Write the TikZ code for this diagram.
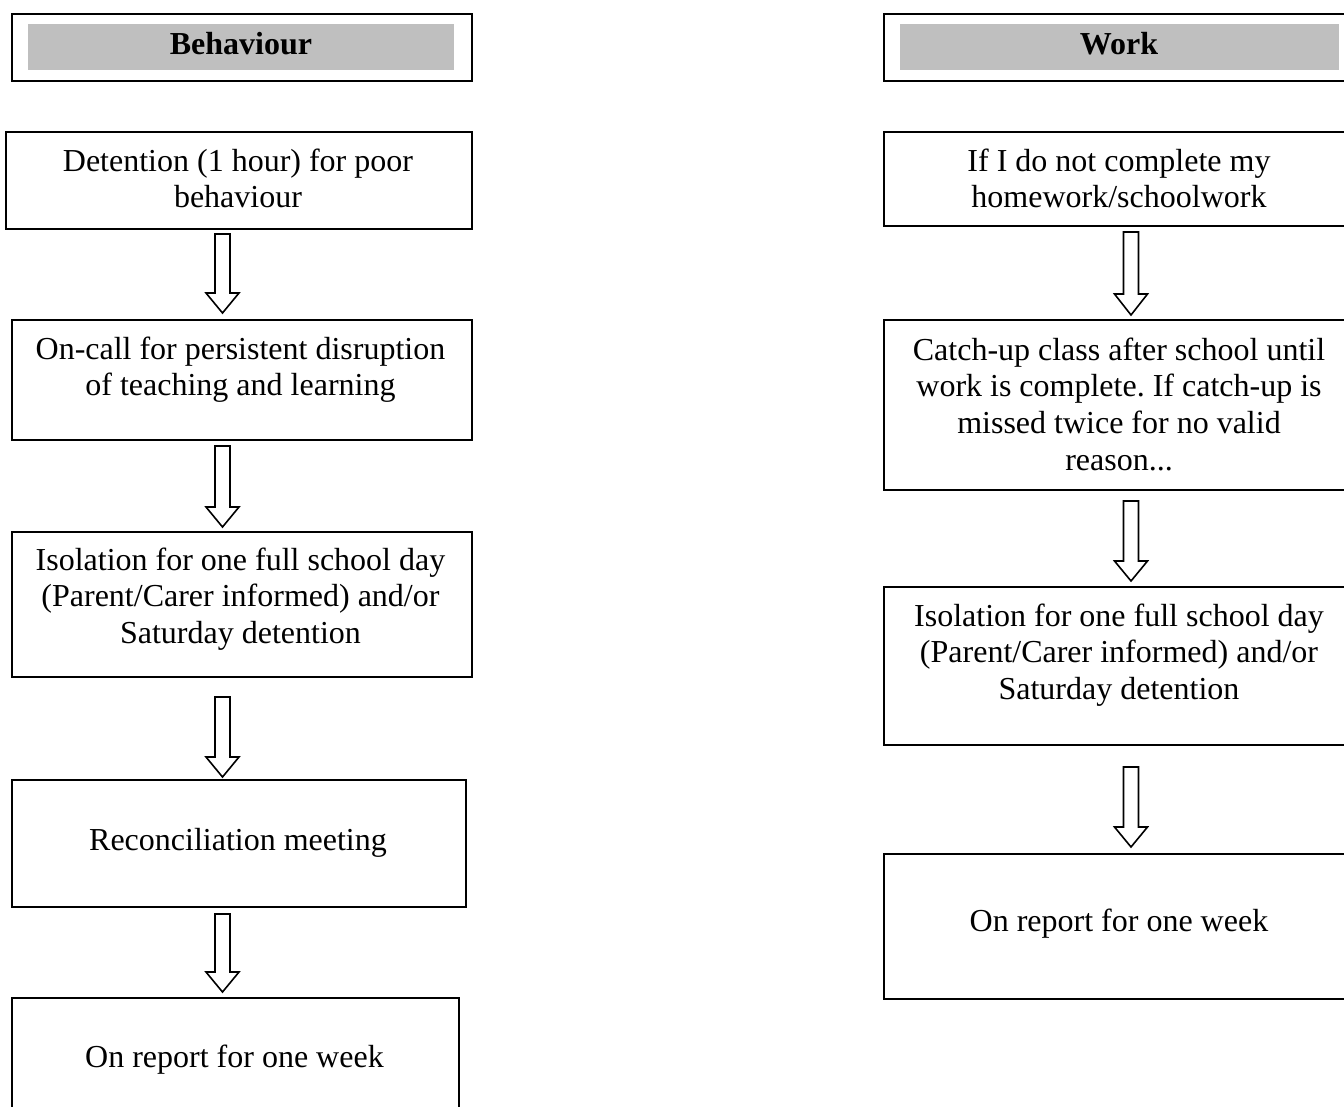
\documentclass[tikz,border=0pt]{standalone}
\usepackage{fontspec}
\setmainfont{Liberation Serif}
\frenchspacing
\definecolor{hdrgray}{HTML}{BFBFBF}
\tikzset{
  boxnode/.style={draw=black, line width=2pt, rectangle, inner sep=0pt, anchor=north west},
  hdrfill/.style={fill=hdrgray, draw=none, rectangle, inner sep=0pt, anchor=north west},
  txt/.style={inner sep=0pt, anchor=base, align=flush center, text width=450pt,
    font=\fontsize{32pt}{36.8pt}\selectfont\frenchspacing},
  hdrtxt/.style={txt, font=\fontsize{32pt}{36.8pt}\selectfont\bfseries},
  blockarr/.style={draw=black, line width=1.6pt, fill=white, line join=miter}
}
\newcommand{\mkbox}[5]{\node[boxnode, minimum width={#4-#2}, minimum height={#5-#3}] (#1) at (#2,#3) {};}
\newcommand{\mkfill}[5]{\node[hdrfill, minimum width={#4-#2}, minimum height={#5-#3}] (#1) at (#2,#3) {};}
\newcommand{\blockarrow}[4]{\draw[blockarr] (#1-7.5,#2) -- (#1+7.5,#2) -- (#1+7.5,#3) -- (#1+16.5,#3) -- (#1,#4) -- (#1-16.5,#3) -- (#1-7.5,#3) -- cycle;}
\begin{document}
\begin{tikzpicture}[x=1pt,y=-1pt]
\useasboundingbox (0,0) rectangle (1344,1106);
\clip (0,0) rectangle (1344,1106);
\fill[white] (0,0) rectangle (1344,1106);

% ---------- Left column: Behaviour ----------
\mkbox{lh}{11}{13}{471}{80}
\mkfill{lhf}{28}{24}{454}{70}
\node[hdrtxt] (lht) at (241,54.5) {Behaviour};

\mkbox{lb1}{5}{131}{471}{228}
\node[txt] (lt1) at (238,171) {Detention (1 hour) for poor\\behaviour};

\mkbox{lb2}{11}{319}{471}{439}
\node[txt] (lt2) at (240.5,359) {On-call for persistent disruption\\of teaching and learning};

\mkbox{lb3}{11}{531}{471}{676}
\node[txt] (lt3) at (240.5,570) {Isolation for one full school day\\(Parent/Carer informed) and/or\\Saturday detention};

\mkbox{lb4}{11}{779}{465}{906}
\node[txt] (lt4) at (238,850) {Reconciliation meeting};

\mkbox{lb5}{11}{997}{458}{1125}
\node[txt] (lt5) at (234.5,1067) {On report for one week};

\blockarrow{222.5}{234}{293}{313}
\blockarrow{222.5}{446}{507}{527}
\blockarrow{222.5}{697}{757}{777}
\blockarrow{222.5}{914}{972}{992}

% ---------- Right column: Work ----------
\mkbox{rh}{883}{13}{1355}{80}
\mkfill{rhf}{900}{24}{1339}{70}
\node[hdrtxt] (rht) at (1119,54) {Work};

\mkbox{rb1}{883}{131}{1355}{225}
\node[txt] (rt1) at (1119,171) {If I do not complete my\\homework/schoolwork};

\mkbox{rb2}{883}{319}{1355}{489}
\node[txt] (rt2) at (1119,360) {Catch-up class after school until\\work is complete. If catch-up is\\missed twice for no valid\\reason...};

\mkbox{rb3}{883}{586}{1355}{744}
\node[txt] (rt3) at (1119,626) {Isolation for one full school day\\(Parent/Carer informed) and/or\\Saturday detention};

\mkbox{rb4}{883}{853}{1355}{998}
\node[txt] (rt4) at (1119,931) {On report for one week};

\blockarrow{1131}{232}{294}{315}
\blockarrow{1131}{501}{561}{581}
\blockarrow{1131}{767}{827}{847}
\end{tikzpicture}
\end{document}
